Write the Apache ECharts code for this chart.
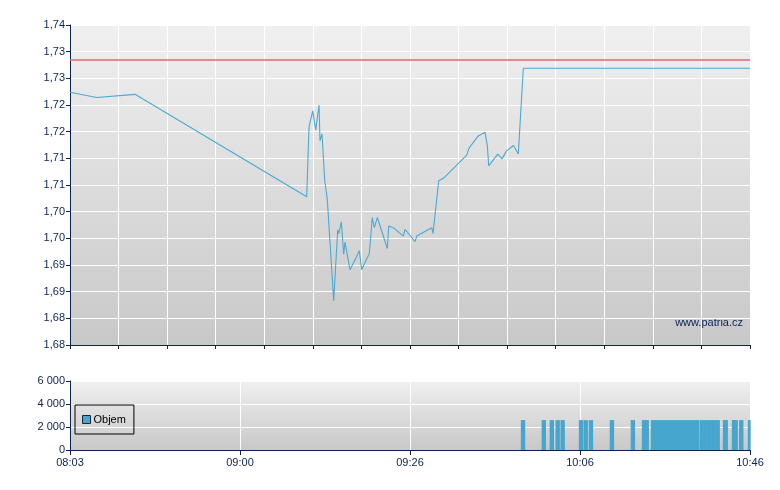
<!DOCTYPE html>
<html>
<head>
<meta charset="utf-8">
<script src="https://cdn.jsdelivr.net/npm/echarts@6/dist/echarts.min.js"></script>
<style>html,body{margin:0;padding:0;background:#fff;}#c{width:780px;height:490px;}</style>
</head>
<body>
<div id="c"></div>
<script>
// Price line: x position along session axis (0..140), price
const priceX = [0, 5.50, 13.38, 48.73, 49.21, 49.97, 50.59, 51.27, 51.47, 51.88, 52.44, 52.98, 54.29, 55.12, 55.32, 55.86, 56.35, 56.62, 57.65, 58.47, 58.88, 59.56, 60.06, 60.94, 61.62, 62.24, 62.65, 63.27, 65.33, 65.62, 66.71, 68.62, 68.97, 71.03, 71.44, 74.47, 74.74, 75.91, 76.94, 81.68, 82.15, 84.06, 85.44, 85.92, 86.21, 88.06, 88.94, 89.87, 91.31, 92.30, 93.33, 140];
const priceY = [1.7274, 1.7264, 1.7270, 1.7078, 1.7209, 1.7239, 1.7203, 1.7250, 1.7183, 1.7196, 1.7109, 1.7072, 1.6883, 1.7016, 1.7009, 1.7031, 1.6970, 1.6993, 1.6941, 1.6956, 1.6963, 1.6977, 1.6941, 1.6959, 1.6971, 1.7039, 1.7020, 1.7039, 1.6981, 1.7023, 1.7019, 1.7004, 1.7017, 1.6994, 1.7005, 1.7020, 1.7009, 1.7108, 1.7113, 1.7156, 1.7169, 1.7192, 1.7199, 1.7174, 1.7136, 1.7158, 1.7149, 1.7164, 1.7174, 1.7158, 1.7319, 1.7319];
const refPrice = 1.7334;
const priceTickLabels = ['1,68','1,68','1,69','1,69','1,70','1,70','1,71','1,71','1,72','1,72','1,73','1,73','1,74'];

// Volume bars
const volX = [93.27, 97.55, 99.20, 100.41, 101.43, 105.21, 106.18, 107.25, 111.57, 115.89, 118.18, 118.74, 120.03, 120.86, 121.68, 122.50, 123.33, 124.15, 124.97, 125.80, 126.62, 127.44, 128.27, 129.09, 130.06, 130.88, 131.71, 132.53, 133.35, 134.86, 135.00, 136.71, 137.06, 138.20, 140];
const volY = [2600, 2600, 2600, 2600, 2600, 2600, 2600, 2600, 2600, 2600, 2600, 2600, 2600, 2600, 2600, 2600, 2600, 2600, 2600, 2600, 2600, 2600, 2600, 2600, 2600, 2600, 2600, 2600, 2600, 2600, 2600, 2600, 2600, 2600, 2600];
const timeLabels = ['08:03', '09:00', '09:26', '10:06', '10:46'];
const volTickLabels = ['0', '2 000', '4 000', '6 000'];

const navy = '#0b2255';
const font = 'Liberation Sans, Arial, sans-serif';
const bg = new echarts.graphic.LinearGradient(0, 0, 0, 1, [
  {offset: 0, color: '#f0f0f0'}, {offset: 1, color: '#c8c8c8'}
]);
const bg2 = new echarts.graphic.LinearGradient(0, 0, 0, 1, [
  {offset: 0, color: '#f0f0f0'}, {offset: 1, color: '#c8c8c8'}
]);

const chart = echarts.init(document.getElementById('c'), null, {renderer: 'canvas'});
const axisCommon = {
  axisLine: {show: true, lineStyle: {color: navy, width: 1}},
  axisTick: {show: true, length: 4, lineStyle: {color: navy}},
  splitLine: {show: true, lineStyle: {color: '#ffffff', width: 1}},
  axisLabel: {color: navy, fontFamily: font, fontSize: 11, margin: 5}
};
chart.setOption({
  animation: false,
  backgroundColor: '#ffffff',
  grid: [
    {left: 70, top: 25, width: 680, height: 320, show: true, backgroundColor: bg, borderWidth: 0},
    {left: 70, top: 381, width: 680, height: 69, show: true, backgroundColor: bg2, borderWidth: 0}
  ],
  legend: {
    data: ['Objem'],
    left: 75, top: 405,
    orient: 'vertical',
    borderColor: '#000', borderWidth: 1,
    padding: [9, 8, 9, 7],
    itemWidth: 8, itemHeight: 8,
    icon: 'rect',
    itemStyle: {borderColor: '#223', borderWidth: 1},
    textStyle: {color: '#000', fontFamily: font, fontSize: 11, padding: [0, 0, 0, -2]}
  },
  xAxis: [
    Object.assign({}, axisCommon, {
      type: 'value', gridIndex: 0, min: 0, max: 140, interval: 10,
      axisLabel: {show: false}
    }),
    Object.assign({}, axisCommon, {
      type: 'value', gridIndex: 1, min: 0, max: 140, interval: 35,
      axisTick: {show: true, length: 5, lineStyle: {color: navy}},
      axisLabel: {color: navy, fontFamily: font, fontSize: 11, margin: 7,
        formatter: v => timeLabels[Math.round(v / 35)]}
    })
  ],
  yAxis: [
    Object.assign({}, axisCommon, {
      type: 'value', gridIndex: 0, min: 1.68, max: 1.74, interval: 0.005,
      axisLabel: {color: navy, fontFamily: font, fontSize: 11, margin: 5,
        formatter: v => priceTickLabels[Math.round((v - 1.68) / 0.005)]}
    }),
    Object.assign({}, axisCommon, {
      type: 'value', gridIndex: 1, min: 0, max: 6000, interval: 2000,
      axisLabel: {color: navy, fontFamily: font, fontSize: 11, margin: 5,
        formatter: v => volTickLabels[Math.round(v / 2000)]}
    })
  ],
  series: [
    {
      name: 'Cena', type: 'line', xAxisIndex: 0, yAxisIndex: 0,
      data: priceX.map((x, i) => [x, priceY[i]]),
      showSymbol: false, symbol: 'none',
      lineStyle: {color: '#4ba9d2', width: 1.1},
      markLine: {
        silent: true, symbol: 'none', label: {show: false},
        precision: 4,
        lineStyle: {color: '#e26b6b', width: 1.5, type: 'solid'},
        data: [{yAxis: refPrice}]
      },
      z: 3
    },
    {
      name: 'Objem', type: 'bar', xAxisIndex: 1, yAxisIndex: 1,
      data: volX.map((x, i) => [x, volY[i]]),
      barWidth: 4.4,
      itemStyle: {color: '#47a6cd'},
      clip: true
    }
  ],
  graphic: [
    {type: 'text', right: 37, top: 317,
     style: {text: 'www.patria.cz', fill: navy, font: '11px ' + font}}
  ]
});
</script>
</body>
</html>
